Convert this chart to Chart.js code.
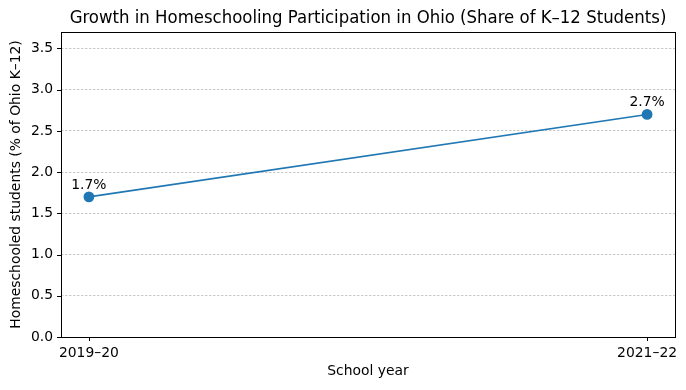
<!DOCTYPE html>
<html>
<head>
<meta charset="utf-8">
<script src="https://cdn.jsdelivr.net/npm/chart.js@4"></script>
<style>
  html, body { margin: 0; padding: 0; background: #fff; }
  #wrap { width: 686px; height: 390px; }
</style>
</head>
<body>
<div id="wrap"><canvas id="chart" width="686" height="390"></canvas></div>
<script>
const schoolYears = ["2019–20", "2021–22"];
const homeschoolShare = [1.7, 2.7];
const yTicks = [0, 0.5, 1.0, 1.5, 2.0, 2.5, 3.0, 3.5];

const font = "'DejaVu Sans', sans-serif";
const fs = 13.9;

const framePlugin = {
  id: "frame",
  afterDraw(chart) {
    const { ctx, chartArea: a, scales } = chart;
    ctx.save();
    ctx.strokeStyle = "#000";
    ctx.lineWidth = 1;
    ctx.strokeRect(Math.round(a.left) + 0.5, Math.round(a.top) + 0.5,
      Math.round(a.right - a.left), Math.round(a.bottom - a.top));
    // tick marks
    ctx.beginPath();
    yTicks.forEach(v => {
      const y = Math.round(scales.y.getPixelForValue(v)) + 0.5;
      ctx.moveTo(a.left - 4, y); ctx.lineTo(a.left, y);
    });
    schoolYears.forEach((_, i) => {
      const x = Math.round(scales.x.getPixelForValue(i)) + 0.5;
      ctx.moveTo(x, a.bottom); ctx.lineTo(x, a.bottom + 4);
    });
    ctx.stroke();
    // title
    ctx.fillStyle = "#000";
    ctx.font = "18.4px 'DejaVu Sans Condensed', 'DejaVu Sans', sans-serif";
    ctx.textAlign = "center";
    ctx.textBaseline = "middle";
    ctx.fillText("Growth in Homeschooling Participation in Ohio (Share of K–12 Students)",
      (a.left + a.right) / 2, 18);
    // value labels
    ctx.font = fs + "px " + font;
    ctx.textBaseline = "bottom";
    const meta = chart.getDatasetMeta(0);
    meta.data.forEach((pt, i) => {
      ctx.fillText(homeschoolShare[i].toFixed(1) + "%", pt.x, pt.y - 5);
    });
    ctx.restore();
  }
};

new Chart(document.getElementById("chart"), {
  type: "line",
  data: {
    datasets: [{
      data: homeschoolShare.map((v, i) => ({ x: i, y: v })),
      borderColor: "#1f77b4",
      backgroundColor: "#1f77b4",
      borderWidth: 1.6,
      pointRadius: 4.6,
      pointHoverRadius: 4.6,
      tension: 0
    }]
  },
  options: {
    responsive: false,
    animation: false,
    events: [],
    layout: { padding: { top: 32, right: 11, left: 0, bottom: 0 } },
    plugins: { legend: { display: false }, tooltip: { enabled: false } },
    scales: {
      x: {
        type: "linear",
        min: -0.05,
        max: 1.05,
        afterBuildTicks(s) { s.ticks = schoolYears.map((_, i) => ({ value: i })); },
        afterFit(s) { s.height = 53; },
        grid: { display: false, drawTicks: false },
        border: { display: false },
        ticks: {
          padding: 8,
          color: "#000",
          font: { family: font, size: fs },
          callback: v => schoolYears[v]
        },
        title: {
          display: true,
          text: "School year",
          color: "#000",
          font: { family: font, size: fs },
          padding: { top: 2, bottom: 10 }
        }
      },
      y: {
        min: 0,
        max: 3.7,
        afterBuildTicks(s) { s.ticks = yTicks.map(v => ({ value: v })); },
        afterFit(s) { s.width = 61; },
        grid: {
          color: "#bdbdbd",
          lineWidth: 0.8,
          drawTicks: false
        },
        border: { display: false, dash: [2.5, 1.5] },
        ticks: {
          padding: 8,
          color: "#000",
          font: { family: font, size: fs },
          callback: v => v.toFixed(1)
        },
        title: {
          display: true,
          text: "Homeschooled students (% of Ohio K–12)",
          color: "#000",
          font: { family: font, size: fs },
          padding: { top: 8, bottom: 4 }
        }
      }
    }
  },
  plugins: [framePlugin]
});
</script>
</body>
</html>
